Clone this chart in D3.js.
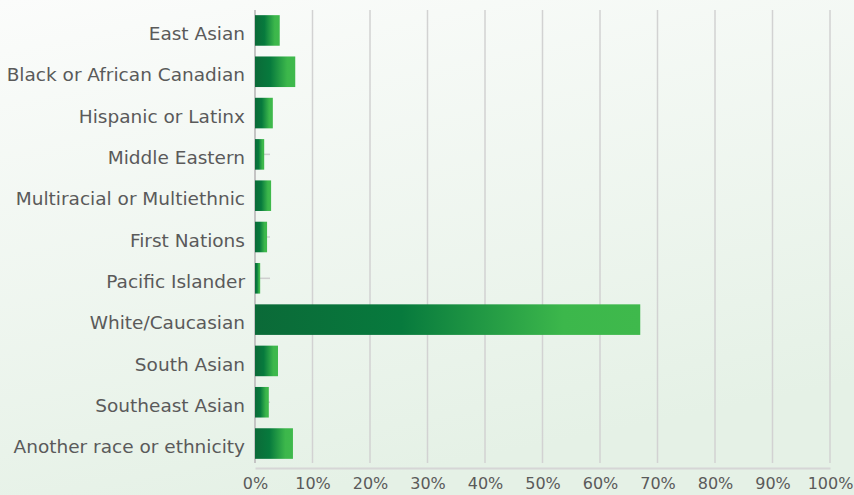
<!DOCTYPE html>
<html>
<head>
<meta charset="utf-8">
<script src="https://cdn.jsdelivr.net/npm/d3@7"></script>
<style>
  html, body { margin: 0; padding: 0; }
  body { width: 854px; height: 495px; overflow: hidden; }
  svg text { font-family: "DejaVu Sans", "Lato", sans-serif; }
</style>
</head>
<body>
<svg id="chart" width="854" height="495"></svg>
<script>
// Share of respondents by race or ethnicity (%)
const categories = [
  "East Asian",
  "Black or African Canadian",
  "Hispanic or Latinx",
  "Middle Eastern",
  "Multiracial or Multiethnic",
  "First Nations",
  "Pacific Islander",
  "White/Caucasian",
  "South Asian",
  "Southeast Asian",
  "Another race or ethnicity"
];
const values = [4.3, 7.0, 3.1, 1.6, 2.8, 2.1, 0.9, 67.0, 4.0, 2.4, 6.6];
const tickValues = [0, 10, 20, 30, 40, 50, 60, 70, 80, 90, 100];
const tickLabels = ["0%", "10%", "20%", "30%", "40%", "50%", "60%", "70%", "80%", "90%", "100%"];

const svg = d3.select("#chart");
const W = 854, H = 495;
const m = { left: 255, right: 24, top: 10, bottom: 31 };

const defs = svg.append("defs");

// soft background wash
const bg = defs.append("linearGradient").attr("id", "bg")
  .attr("x1", "0").attr("y1", "0").attr("x2", "0.35").attr("y2", "1");
bg.append("stop").attr("offset", "0").attr("stop-color", "#fbfcfb");
bg.append("stop").attr("offset", "1").attr("stop-color", "#e5f1e6");
svg.append("rect").attr("width", W).attr("height", H).attr("fill", "url(#bg)");

// bar fill: dark green into bright green
const bar = defs.append("linearGradient").attr("id", "barFill")
  .attr("x1", "0").attr("y1", "0").attr("x2", "1").attr("y2", "0");
bar.append("stop").attr("offset", "0").attr("stop-color", "#0b6a38");
bar.append("stop").attr("offset", "0.38").attr("stop-color", "#077a3d");
bar.append("stop").attr("offset", "0.8").attr("stop-color", "#3cb74b");
bar.append("stop").attr("offset", "1").attr("stop-color", "#3fb94c");

const x = d3.scaleLinear().domain([0, 100]).range([m.left, W - m.right]);
const y = d3.scaleBand().domain(categories)
  .range([m.top, H - m.bottom])
  .paddingInner(0.26).paddingOuter(0.125);

// vertical gridlines
svg.append("g")
  .selectAll("line").data(tickValues.slice(1)).join("line")
  .attr("x1", d => x(d)).attr("x2", d => x(d))
  .attr("y1", m.top).attr("y2", H - m.bottom - 1)
  .attr("stroke", "#d2d2d2").attr("stroke-width", 1.5);

// left axis line and short category ticks
svg.append("line")
  .attr("x1", x(0)).attr("x2", x(0))
  .attr("y1", m.top).attr("y2", H - m.bottom - 1)
  .attr("stroke", "#c4c4c4").attr("stroke-width", 2);
svg.append("g")
  .selectAll("line").data(categories).join("line")
  .attr("x1", x(0)).attr("x2", x(0) + 15)
  .attr("y1", d => y(d) + y.bandwidth() / 2)
  .attr("y2", d => y(d) + y.bandwidth() / 2)
  .attr("stroke", "#cfcfcf").attr("stroke-width", 1.5);

// bars
svg.append("g")
  .selectAll("rect").data(categories).join("rect")
  .attr("x", x(0))
  .attr("y", d => y(d))
  .attr("width", (d, i) => x(values[i]) - x(0))
  .attr("height", y.bandwidth())
  .attr("fill", "url(#barFill)");

// category labels
svg.append("g")
  .selectAll("text").data(categories).join("text")
  .attr("x", m.left - 10)
  .attr("y", d => y(d) + y.bandwidth() / 2)
  .attr("dy", "0.52em")
  .attr("text-anchor", "end")
  .attr("font-size", 18.5)
  .attr("fill", "#5a5a5a")
  .text(d => d);

// bottom axis
const xAxis = d3.axisBottom(x).tickValues(tickValues)
  .tickFormat((d, i) => tickLabels[i]).tickSize(0).tickPadding(10);
const gx = svg.append("g")
  .attr("transform", `translate(0,${H - m.bottom + 4})`)
  .call(xAxis);
gx.select(".domain").attr("stroke", "#d6d6d6").attr("stroke-width", 2);
gx.selectAll("text").attr("font-size", 16).attr("fill", "#5a5a5a");
</script>
</body>
</html>
